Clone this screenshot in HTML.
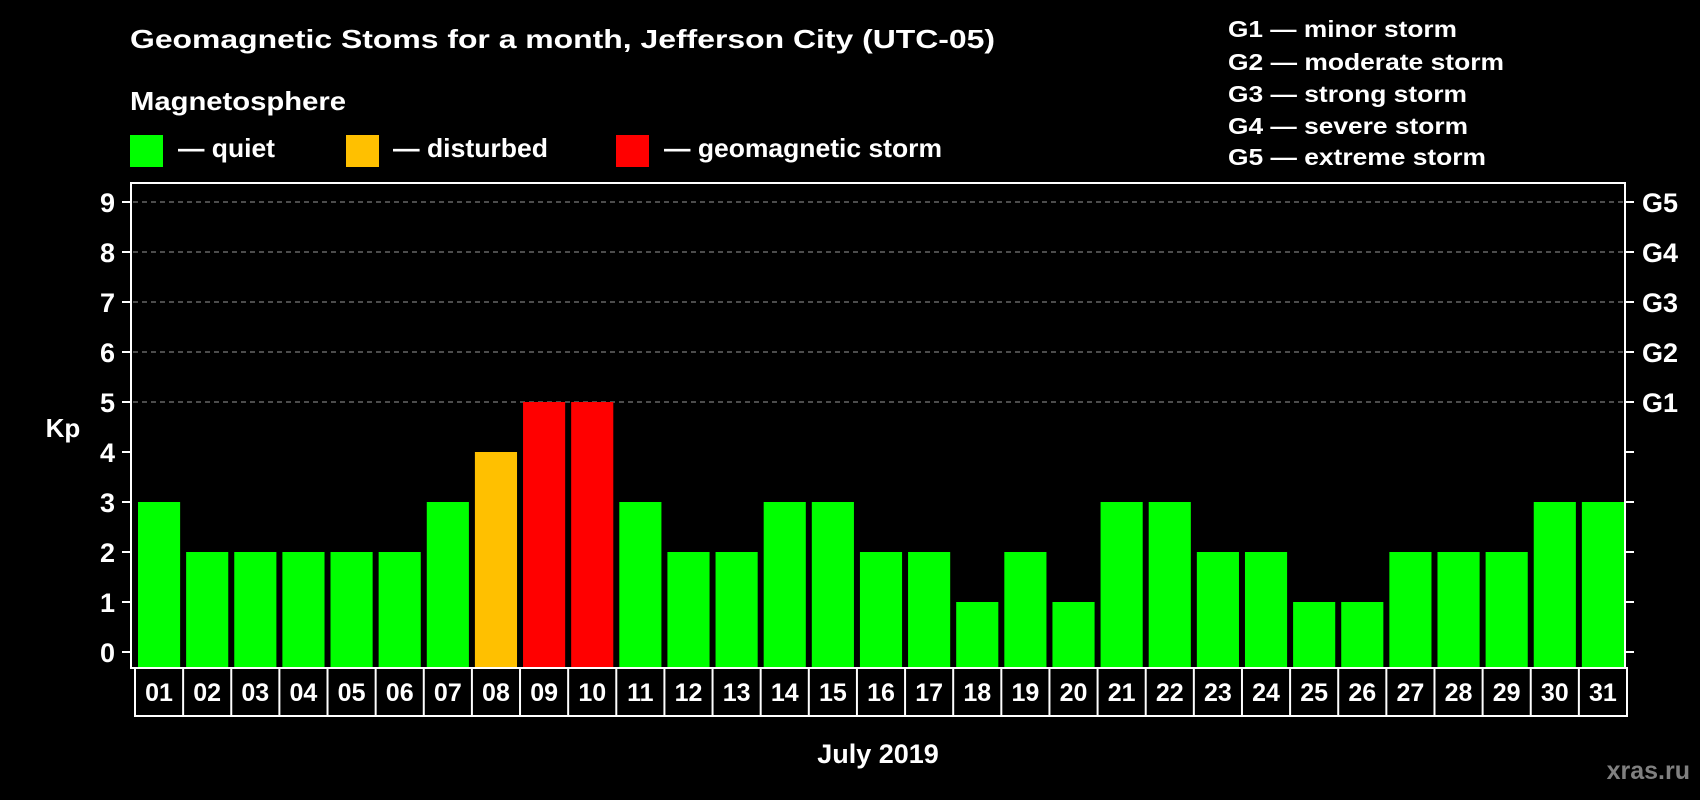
<!DOCTYPE html>
<html><head><meta charset="utf-8"><style>
html,body{margin:0;padding:0;background:#000;}
svg{display:block;font-family:"Liberation Sans",Arial,sans-serif;font-weight:bold;}
</style></head><body>
<svg id="chart" width="1700" height="800" viewBox="0 0 1700 800">
<rect x="0" y="0" width="1700" height="800" fill="#000"/>
<text x="130" y="48" font-size="26" fill="#fff" textLength="865" lengthAdjust="spacingAndGlyphs">Geomagnetic Stoms for a month, Jefferson City (UTC-05)</text>
<text x="130" y="110" font-size="26" fill="#fff" textLength="216" lengthAdjust="spacingAndGlyphs">Magnetosphere</text>
<g>
<rect x="130" y="135" width="33" height="32" fill="#00ff00"/>
<text x="178" y="157" font-size="26" fill="#fff" textLength="97" lengthAdjust="spacingAndGlyphs">— quiet</text>
</g>
<g>
<rect x="346" y="135" width="33" height="32" fill="#ffc000"/>
<text x="393" y="157" font-size="26" fill="#fff" textLength="155" lengthAdjust="spacingAndGlyphs">— disturbed</text>
</g>
<g>
<rect x="616" y="135" width="33" height="32" fill="#ff0000"/>
<text x="664" y="157" font-size="26" fill="#fff" textLength="278" lengthAdjust="spacingAndGlyphs">— geomagnetic storm</text>
</g>
<g font-size="23" fill="#fff">
<text x="1228" y="37" textLength="229" lengthAdjust="spacingAndGlyphs">G1 — minor storm</text>
<text x="1228" y="70" textLength="276" lengthAdjust="spacingAndGlyphs">G2 — moderate storm</text>
<text x="1228" y="102" textLength="239" lengthAdjust="spacingAndGlyphs">G3 — strong storm</text>
<text x="1228" y="134" textLength="240" lengthAdjust="spacingAndGlyphs">G4 — severe storm</text>
<text x="1228" y="165" textLength="258" lengthAdjust="spacingAndGlyphs">G5 — extreme storm</text>
</g>
<text x="63" y="437" font-size="26" fill="#fff" text-anchor="middle">Kp</text>
<g id="grid"></g>
<g id="bars"></g>
<g id="axes"></g>
<g id="xlabels"></g>
<text x="878" y="763" font-size="27" fill="#fff" text-anchor="middle">July 2019</text>
<text x="1690" y="779" font-size="25" fill="#808080" text-anchor="end">xras.ru</text>
</svg>
<script>
const days = ["01","02","03","04","05","06","07","08","09","10","11","12","13","14","15","16","17","18","19","20","21","22","23","24","25","26","27","28","29","30","31"];
const kpValues = [3,2,2,2,2,2,3,4,5,5,3,2,2,3,3,2,2,1,2,1,3,3,2,2,1,1,2,2,2,3,3];
const yTicks = [0,1,2,3,4,5,6,7,8,9];
const gLabels = ["G1","G2","G3","G4","G5"];
const gLevels = [5,6,7,8,9];

const NS = "http://www.w3.org/2000/svg";
const plotL = 131, plotR = 1625, plotT = 183, plotB = 668;
const y0 = 652, unit = 50;
const step = (plotR - plotL - 2) / days.length;
function yScale(v){ return y0 - v * unit; }
function xScale(i){ return 135 + i * step; }
function mk(tag, attrs, parent){
  const e = document.createElementNS(NS, tag);
  for (const k in attrs) e.setAttribute(k, attrs[k]);
  parent.appendChild(e);
  return e;
}
const grid = document.getElementById("grid");
const axes = document.getElementById("axes");
const bars = document.getElementById("bars");
const xl = document.getElementById("xlabels");

gLevels.forEach(function(v){
  const l = mk("line", {x1: plotL+2, x2: plotR-2, y1: yScale(v), y2: yScale(v), stroke: "#999", "stroke-width": 1, "stroke-dasharray": "5,4"}, grid);
  
  
});

kpValues.forEach(function(v, i){
  const color = v >= 5 ? "#ff0000" : (v >= 4 ? "#ffc000" : "#00ff00");
  const r = mk("rect", {x: xScale(i) + 3, y: yScale(v), width: step - 6, height: plotB - 1 - yScale(v), fill: color}, bars);
  
  
});

const frame = mk("rect", {x: plotL, y: plotT, width: plotR - plotL, height: plotB - plotT, fill: "none", stroke: "#fff", "stroke-width": 2}, axes);



yTicks.forEach(function(v){
  const t1 = mk("line", {x1: plotL - 9, x2: plotL, y1: yScale(v), y2: yScale(v), stroke: "#fff", "stroke-width": 2}, axes);
  
  
  const t2 = mk("line", {x1: plotR, x2: plotR + 9, y1: yScale(v), y2: yScale(v), stroke: "#fff", "stroke-width": 2}, axes);
  
  
  const tx = mk("text", {x: 115, y: yScale(v) + 10, "font-size": 27, fill: "#fff", "text-anchor": "end"}, axes);
  tx.textContent = v;
  
  
});

gLabels.forEach(function(g, i){
  const tx = mk("text", {x: 1642, y: yScale(gLevels[i]) + 10, "font-size": 27, fill: "#fff"}, axes);
  tx.textContent = g;
  
  
});

const box = mk("rect", {x: 135, y: plotB, width: step * days.length, height: 48, fill: "none", stroke: "#fff", "stroke-width": 2}, xl);


days.forEach(function(d, i){
  if (i > 0) {
    const s = mk("line", {x1: xScale(i), x2: xScale(i), y1: plotB, y2: plotB + 48, stroke: "#fff", "stroke-width": 2}, xl);
    
    
  }
  const tx = mk("text", {x: xScale(i) + step / 2, y: plotB + 33, "font-size": 25, fill: "#fff", "text-anchor": "middle"}, xl);
  tx.textContent = d;
  
  
});
</script>
</body></html>
